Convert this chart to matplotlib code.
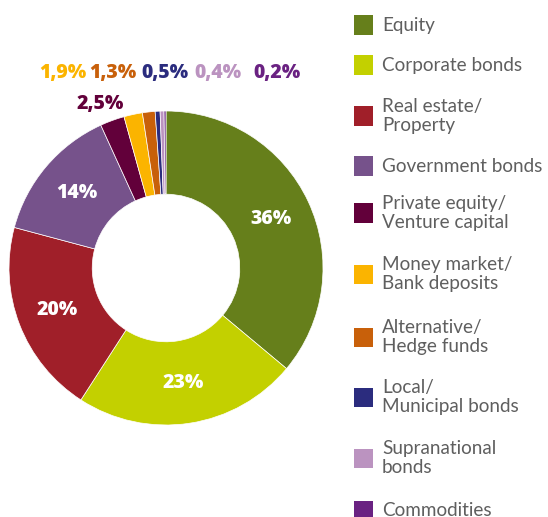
import matplotlib
matplotlib.use("Agg")
import matplotlib.pyplot as plt
from matplotlib.patches import Rectangle
import numpy as np

categories = ["Equity", "Corporate bonds", "Real estate/\nProperty", "Government bonds",
              "Private equity/\nVenture capital", "Money market/\nBank deposits",
              "Alternative/\nHedge funds", "Local/\nMunicipal bonds",
              "Supranational\nbonds", "Commodities"]
values = [36, 23, 20, 14, 2.5, 1.9, 1.3, 0.5, 0.4, 0.2]
value_labels = ["36%", "23%", "20%", "14%", "2,5%", "1,9%", "1,3%", "0,5%", "0,4%", "0,2%"]
colors = ["#667f1b", "#c3d000", "#a01f29", "#76528b", "#62003a",
          "#fbb400", "#c8600a", "#2b2c7e", "#bb93c0", "#6a2282"]

W, H = 548, 517
fig = plt.figure(figsize=(W / 100, H / 100), dpi=100)

cx, cy, R = 166, 268, 157
ax = fig.add_axes([(cx - R) / W, (H - cy - R) / H, 2 * R / W, 2 * R / H])
wedges, _ = ax.pie(values, colors=colors, startangle=90, counterclock=False,
                   radius=1.0, wedgeprops=dict(width=0.53, edgecolor="white", linewidth=0.5))
ax.set_xlim(-1, 1)
ax.set_ylim(-1, 1)
ax.set_aspect("equal")
ax.axis("off")

lab_font = "Open Sans"
lab_size = 14
lab_weight = 800
# inside labels for the 4 big slices
for w, lab in zip(wedges[:4], value_labels[:4]):
    ang = np.deg2rad((w.theta1 + w.theta2) / 2)
    r = 0.74
    ax.text(r * np.cos(ang), r * np.sin(ang), lab, ha="center", va="center",
            color="white", fontsize=lab_size, fontweight=lab_weight, family=lab_font)

# outside labels for small slices
ax.text(-0.42, 1.045, value_labels[4], ha="center", va="center", color=colors[4],
        fontsize=lab_size, fontweight=lab_weight, family=lab_font, clip_on=False)
top_x = [-0.656, -0.338, -0.006, 0.331, 0.707]
for x, lab, c in zip(top_x, value_labels[5:], colors[5:]):
    ax.text(x, 1.24, lab, ha="center", va="center", color=c,
            fontsize=lab_size, fontweight=lab_weight, family=lab_font, clip_on=False)

# legend
leg_y = [25, 65, 116, 166, 213, 274, 337, 397, 458, 510]
sq = 19
for cat, c, y in zip(categories, colors, leg_y):
    fig.patches.append(Rectangle((354 / W, (H - y - sq / 2) / H), sq / W, sq / H,
                                 transform=fig.transFigure, facecolor=c, edgecolor="none"))
    fig.text(382 / W, (H - y) / H, cat, ha="left", va="center", color="#5f5f5f",
             fontsize=13.6, family="Lato", linespacing=1.15)

fig.savefig("out.png", dpi=100)
